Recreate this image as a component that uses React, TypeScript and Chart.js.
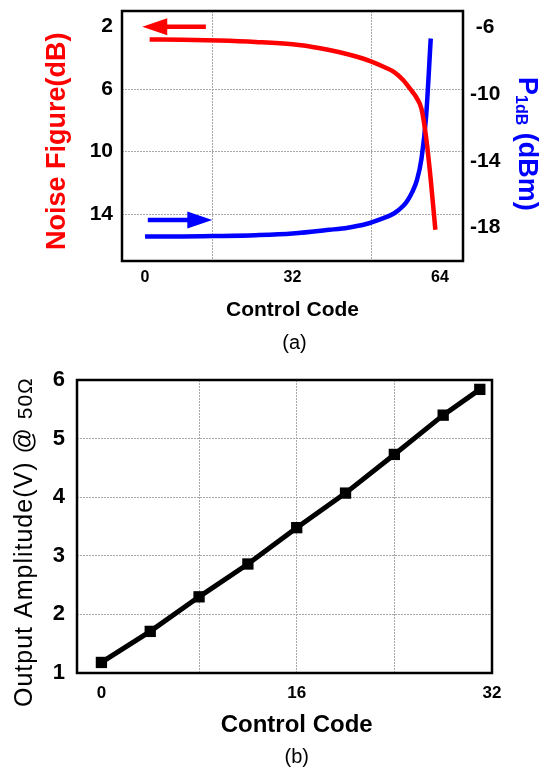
import React, { useEffect, useRef } from "react";
import { Chart, registerables } from "chart.js";

Chart.register(...registerables);

const FONT = '"Liberation Sans", Arial, Helvetica, sans-serif';
const GRID = "#a8a8a8";

// ---------- Panel (a) data ----------
const NF_CODES = [1, 8, 16, 24, 32, 38, 42, 46, 49, 52, 54, 56, 57, 58, 59, 60, 61, 62, 63];
const NF_VALUES = [2.82, 2.84, 2.89, 2.98, 3.13, 3.38, 3.62, 3.93, 4.22, 4.6, 4.9, 5.42, 5.78, 6.16, 6.59, 7.27, 9.1, 11.8, 15.0];
const P1DB_CODES = [0, 8, 16, 24, 32, 40, 44, 48, 51, 54, 56, 57, 58, 59, 60, 61, 62];
const P1DB_VALUES = [-18.53, -18.53, -18.5, -18.45, -18.35, -18.13, -18.0, -17.78, -17.5, -17.15, -16.7, -16.35, -15.85, -15.15, -13.85, -11.3, -6.65];
const NF_TICKS = [2, 6, 10, 14];
const P1DB_TICKS = [-18, -14, -10, -6];
const A_X_LABELS = [0, 32, 64];
const A_X_GRID = [14.6, 49.2];
// arrows: [from code, to code, level on own axis]
const NF_ARROW = [13.2, -0.6, 2.0];
const P1DB_ARROW = [0.6, 14.6, -17.54];

// ---------- Panel (b) data ----------
const AMP_CODES = [0, 4, 8, 12, 16, 20, 24, 28, 31];
const AMP_VALUES = [1.18, 1.71, 2.3, 2.86, 3.48, 4.07, 4.73, 5.4, 5.84];
const B_X_LABELS = [0, 16, 32];
const B_X_GRID = [8, 16, 24];
const B_Y_TICKS = [1, 2, 3, 4, 5, 6];

const TEXT_A_X = "Control Code";
const TEXT_A_Y = "Noise Figure(dB)";
const TEXT_A_Y1_MAIN = "P";
const TEXT_A_Y1_SUB = "1dB";
const TEXT_A_Y1_REST = " (dBm)";
const TEXT_B_X = "Control Code";
const TEXT_B_Y_MAIN = "Output Amplitude(V) @ ";
const TEXT_B_Y_SMALL = "50Ω";

function drawArrow(ctx: CanvasRenderingContext2D, x1: number, y1: number, x2: number, y2: number, color: string) {
  const headLen = 25;
  const headHalf = 8.5;
  const ang = Math.atan2(y2 - y1, x2 - x1);
  const bx = x2 - headLen * Math.cos(ang);
  const by = y2 - headLen * Math.sin(ang);
  ctx.save();
  ctx.strokeStyle = color;
  ctx.fillStyle = color;
  ctx.lineWidth = 4.5;
  ctx.beginPath();
  ctx.moveTo(x1, y1);
  ctx.lineTo(bx + 1 * Math.cos(ang), by + 1 * Math.sin(ang));
  ctx.stroke();
  ctx.beginPath();
  ctx.moveTo(x2, y2);
  ctx.lineTo(bx + headHalf * Math.sin(ang), by - headHalf * Math.cos(ang));
  ctx.lineTo(bx - headHalf * Math.sin(ang), by + headHalf * Math.cos(ang));
  ctx.closePath();
  ctx.fill();
  ctx.restore();
}

function drawFrame(chart: any) {
  const { ctx, chartArea } = chart;
  ctx.save();
  ctx.strokeStyle = "#000";
  ctx.lineWidth = 2.5;
  ctx.strokeRect(chartArea.left, chartArea.top, chartArea.right - chartArea.left, chartArea.bottom - chartArea.top);
  ctx.restore();
}

const noPad = (s: any) => {
  s.paddingTop = 0;
  s.paddingBottom = 0;
  s.paddingLeft = 0;
  s.paddingRight = 0;
};

const pluginA = {
  id: "panelA",
  beforeDatasetsDraw(chart: any) {
    drawFrame(chart);
  },
  afterDraw(chart: any) {
    const { ctx, scales } = chart;
    const x = scales.x, y = scales.y, y1 = scales.y1;
    drawArrow(ctx, x.getPixelForValue(NF_ARROW[0]), y.getPixelForValue(NF_ARROW[2]), x.getPixelForValue(NF_ARROW[1]), y.getPixelForValue(NF_ARROW[2]), "#ff0000");
    drawArrow(ctx, x.getPixelForValue(P1DB_ARROW[0]), y1.getPixelForValue(P1DB_ARROW[2]), x.getPixelForValue(P1DB_ARROW[1]), y1.getPixelForValue(P1DB_ARROW[2]), "#0000ff");

    // left title
    ctx.save();
    ctx.translate(65, 250);
    ctx.rotate(-Math.PI / 2);
    ctx.font = `bold 27px ${FONT}`;
    ctx.fillStyle = "#ff0000";
    ctx.textAlign = "left";
    ctx.textBaseline = "alphabetic";
    ctx.fillText(TEXT_A_Y, 0, 0);
    ctx.restore();

    // right title with subscript
    ctx.save();
    ctx.translate(519, 77);
    ctx.rotate(Math.PI / 2);
    ctx.fillStyle = "#0000ff";
    ctx.textAlign = "left";
    ctx.textBaseline = "alphabetic";
    ctx.font = `bold 27px ${FONT}`;
    ctx.fillText(TEXT_A_Y1_MAIN, 0, 0);
    let off = ctx.measureText(TEXT_A_Y1_MAIN).width;
    ctx.font = `bold 16px ${FONT}`;
    ctx.fillText(TEXT_A_Y1_SUB, off, 3);
    off += ctx.measureText(TEXT_A_Y1_SUB).width;
    ctx.font = `bold 27px ${FONT}`;
    ctx.fillText(TEXT_A_Y1_REST, off, 0);
    ctx.restore();

    // caption
    ctx.save();
    ctx.font = `20px ${FONT}`;
    ctx.fillStyle = "#000";
    ctx.textAlign = "center";
    ctx.textBaseline = "middle";
    ctx.fillText("(a)", x.getPixelForValue(32) + 2, 343);
    ctx.restore();
  },
};

const pluginB = {
  id: "panelB",
  beforeDatasetsDraw(chart: any) {
    drawFrame(chart);
  },
  afterDraw(chart: any) {
    const { ctx, scales } = chart;
    const x = scales.x;
    ctx.save();
    ctx.translate(31.5, 347);
    ctx.rotate(-Math.PI / 2);
    ctx.fillStyle = "#000";
    ctx.textAlign = "left";
    ctx.textBaseline = "alphabetic";
    (ctx as any).letterSpacing = "1px";
    ctx.font = `25px ${FONT}`;
    ctx.fillText(TEXT_B_Y_MAIN, 0, 0);
    const off = ctx.measureText(TEXT_B_Y_MAIN).width;
    ctx.font = `21px ${FONT}`;
    ctx.fillText(TEXT_B_Y_SMALL, off, 0);
    ctx.restore();

    ctx.save();
    ctx.fillStyle = "#000";
    ctx.textAlign = "center";
    ctx.textBaseline = "middle";
    ctx.font = `bold 24px ${FONT}`;
    ctx.fillText(TEXT_B_X, x.getPixelForValue(16), 365);
    ctx.font = `20px ${FONT}`;
    ctx.fillText("(b)", x.getPixelForValue(16), 397);
    ctx.restore();
  },
};

const tickFont = (size: number) => ({ family: FONT, size, weight: "bold" as const });

function makeConfigA(): any {
  return {
    type: "line",
    data: {
      datasets: [
        {
          label: "Noise Figure",
          data: NF_CODES.map((c, i) => ({ x: c, y: NF_VALUES[i] })),
          yAxisID: "y",
          borderColor: "#ff0000",
          borderWidth: 4.5,
          pointRadius: 0,
          cubicInterpolationMode: "monotone",
          fill: false,
        },
        {
          label: "P1dB",
          data: P1DB_CODES.map((c, i) => ({ x: c, y: P1DB_VALUES[i] })),
          yAxisID: "y1",
          borderColor: "#0000ff",
          borderWidth: 4.5,
          pointRadius: 0,
          cubicInterpolationMode: "monotone",
          fill: false,
        },
      ],
    },
    options: {
      animation: false,
      responsive: false,
      layout: { padding: { top: 11, left: 0, right: 0, bottom: 0 } },
      plugins: { legend: { display: false }, tooltip: { enabled: false } },
      scales: {
        x: {
          type: "linear",
          min: -5,
          max: 69,
          afterBuildTicks: (s: any) => {
            s.ticks = [...A_X_LABELS, ...A_X_GRID].sort((a, b) => a - b).map((v) => ({ value: v }));
          },
          afterFit: (s: any) => {
            s.height = 99;
            noPad(s);
          },
          ticks: {
            autoSkip: false,
            maxRotation: 0,
            padding: 7,
            color: "#000",
            font: tickFont(16),
            callback: (v: number) => (A_X_LABELS.includes(v) ? String(v) : ""),
          },
          grid: {
            drawTicks: false,
            lineWidth: 1,
            color: (c: any) => (c.tick && A_X_GRID.includes(c.tick.value) ? GRID : "rgba(0,0,0,0)"),
          },
          border: { display: false, dash: [2, 1] },
          title: {
            display: true,
            text: TEXT_A_X,
            color: "#000",
            font: { family: FONT, size: 21, weight: "bold" },
            padding: { top: 0, bottom: 37 },
          },
        },
        y: {
          type: "linear",
          position: "left",
          reverse: true,
          min: 1,
          max: 17,
          afterBuildTicks: (s: any) => {
            s.ticks = NF_TICKS.map((v) => ({ value: v }));
          },
          afterFit: (s: any) => {
            s.width = 122;
            noPad(s);
          },
          ticks: { padding: 9, color: "#000", font: tickFont(21) },
          grid: {
            drawTicks: false,
            lineWidth: 1,
            color: (c: any) => (c.tick && c.tick.value === NF_TICKS[0] ? "rgba(0,0,0,0)" : GRID),
          },
          border: { display: false, dash: [2, 1] },
        },
        y1: {
          type: "linear",
          position: "right",
          min: -20,
          max: -5,
          afterBuildTicks: (s: any) => {
            s.ticks = P1DB_TICKS.map((v) => ({ value: v }));
          },
          afterFit: (s: any) => {
            s.width = 87;
            noPad(s);
          },
          ticks: { padding: 7, crossAlign: "center", color: "#000", font: tickFont(21) },
          grid: { display: false, drawTicks: false },
          border: { display: false },
        },
      },
    },
    plugins: [pluginA],
  };
}

function makeConfigB(): any {
  return {
    type: "line",
    data: {
      datasets: [
        {
          label: "Output Amplitude",
          data: AMP_CODES.map((c, i) => ({ x: c, y: AMP_VALUES[i] })),
          borderColor: "#000",
          borderWidth: 5,
          pointStyle: "rect",
          pointRadius: 8,
          pointBackgroundColor: "#000",
          pointBorderColor: "#000",
          pointBorderWidth: 0,
          fill: false,
        },
      ],
    },
    options: {
      animation: false,
      responsive: false,
      layout: { padding: { top: 20, left: 0, right: 58, bottom: 0 } },
      plugins: { legend: { display: false }, tooltip: { enabled: false } },
      scales: {
        x: {
          type: "linear",
          min: -2,
          max: 32,
          afterBuildTicks: (s: any) => {
            s.ticks = [...new Set([...B_X_LABELS, ...B_X_GRID])].sort((a, b) => a - b).map((v) => ({ value: v }));
          },
          afterFit: (s: any) => {
            s.height = 97;
            noPad(s);
          },
          ticks: {
            autoSkip: false,
            maxRotation: 0,
            padding: 10,
            color: "#000",
            font: tickFont(17),
            callback: (v: number) => (B_X_LABELS.includes(v) ? String(v) : ""),
          },
          grid: {
            drawTicks: false,
            lineWidth: 1,
            color: (c: any) => (c.tick && B_X_GRID.includes(c.tick.value) ? GRID : "rgba(0,0,0,0)"),
          },
          border: { display: false, dash: [2, 1] },
        },
        y: {
          type: "linear",
          min: 1,
          max: 6,
          afterBuildTicks: (s: any) => {
            s.ticks = B_Y_TICKS.map((v) => ({ value: v }));
          },
          afterFit: (s: any) => {
            s.width = 77;
            noPad(s);
          },
          ticks: { padding: 12, color: "#000", font: tickFont(22) },
          grid: { drawTicks: false, lineWidth: 1, color: GRID },
          border: { display: false, dash: [2, 1] },
        },
      },
    },
    plugins: [pluginB],
  };
}

export default function App() {
  const refA = useRef<HTMLCanvasElement | null>(null);
  const refB = useRef<HTMLCanvasElement | null>(null);

  useEffect(() => {
    if (!refA.current || !refB.current) return;
    const a = new Chart(refA.current, makeConfigA());
    const b = new Chart(refB.current, makeConfigB());
    return () => {
      a.destroy();
      b.destroy();
    };
  }, []);

  return (
    <div style={{ position: "absolute", left: 0, top: 0, width: 550, height: 770, background: "#fff" }}>
      <canvas ref={refA} width={550} height={360} style={{ display: "block", width: 550, height: 360 }} />
      <canvas ref={refB} width={550} height={410} style={{ display: "block", width: 550, height: 410 }} />
    </div>
  );
}
